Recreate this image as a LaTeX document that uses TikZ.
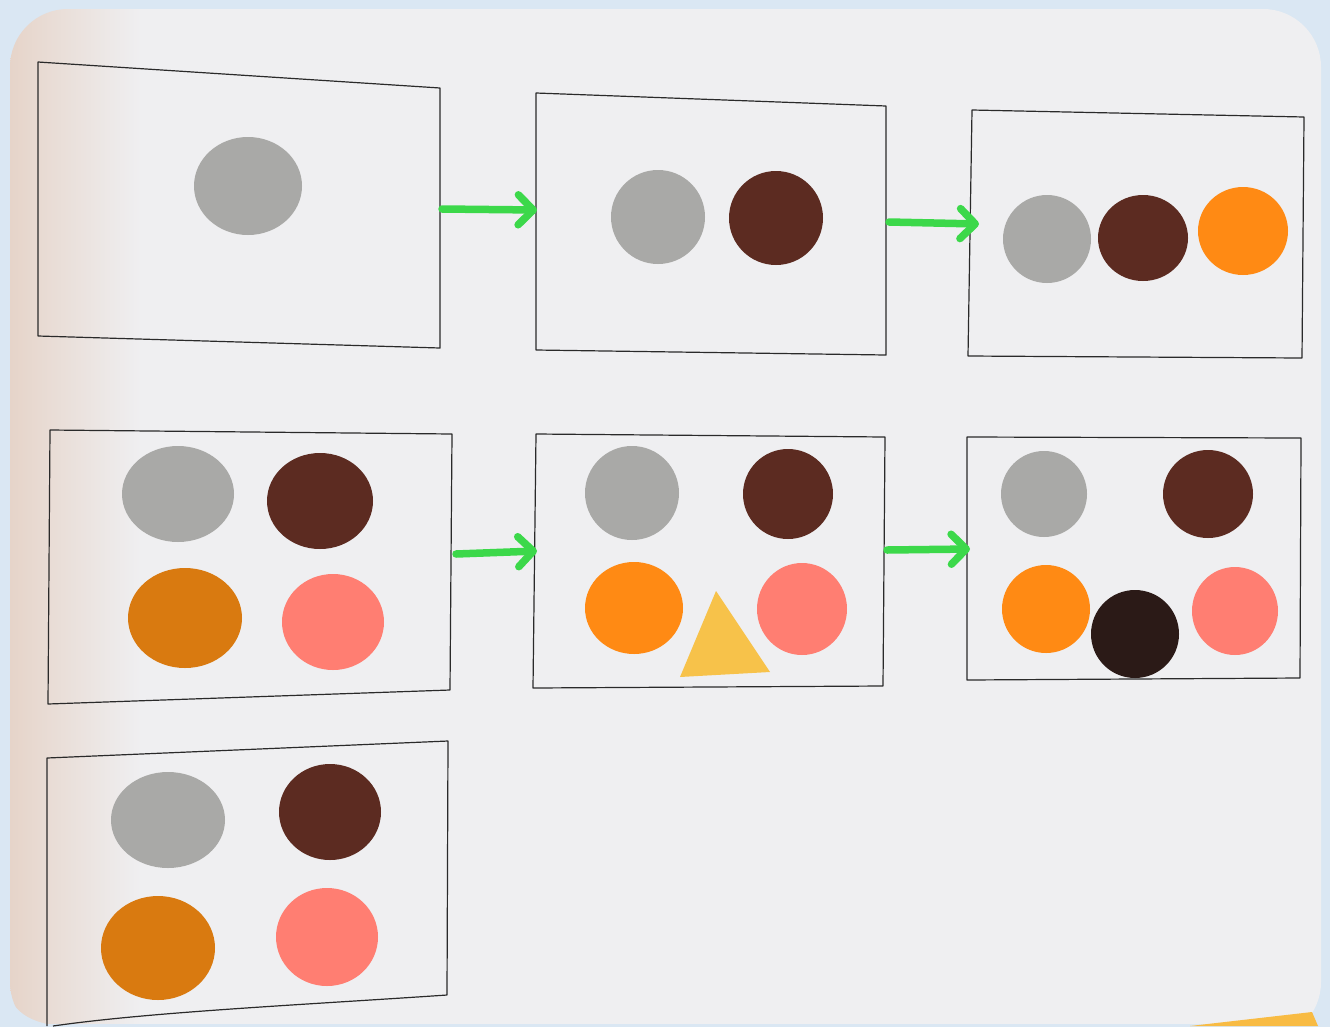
\documentclass[tikz,border=0pt]{standalone}
\usetikzlibrary{arrows.meta}
\definecolor{bgblue}{HTML}{DAE7F3}
\definecolor{paper}{HTML}{EFEFF1}
\definecolor{paperwarm}{HTML}{E6D4C9}
\definecolor{cgray}{HTML}{A9A9A7}
\definecolor{cbrown}{HTML}{5C2B21}
\definecolor{corange}{HTML}{FF8A14}
\definecolor{cdorange}{HTML}{D97A10}
\definecolor{cpink}{HTML}{FF7E72}
\definecolor{cblack}{HTML}{2B1A17}
\definecolor{cyellow}{HTML}{F7C24A}
\definecolor{cgreen}{HTML}{3CD84A}
\definecolor{frameline}{HTML}{2A2A2A}
\pgfdeclarehorizontalshading{papershade}{100bp}{color(0bp)=(paperwarm); color(25bp)=(paperwarm); color(30bp)=(paper); color(100bp)=(paper)}
\tikzset{
  framebox/.style={draw=frameline, line width=1.2pt, line join=round},
  greenarrow/.style={draw=cgreen, line width=7.5pt, line cap=round,
    -{Straight Barb[length=15pt,width=30pt,line cap=round,line join=round]}},
}
\begin{document}
\begin{tikzpicture}[x=1pt,y=-1pt]
\useasboundingbox (0,0) rectangle (1330,1026);
\fill[bgblue] (0,0) rectangle (1330,1026);
\shade[shading=papershade, rounded corners=58pt] (10,9) rectangle (1321,1040);
\fill[bgblue] (0,1024) rectangle (1330,1030);
% paper bottom corners
\fill[bgblue] (0,1026) -- (0,970) .. controls (8,1010) and (25,1022) .. (60,1026) -- cycle;
\fill[cyellow!90!orange] (1190,1026) -- (1312,1012) -- (1318,1026) -- cycle;
% frames
\draw[framebox] (38,62) -- (440,88) -- (440,348) -- (38,336) -- cycle;
\draw[framebox] (536,93) -- (886,106) -- (886,355) -- (536,350) -- cycle;
\draw[framebox] (972,110) -- (1304,117) -- (1302,358) -- (968,356) -- cycle;
\draw[framebox] (50,430) -- (452,434) -- (450,690) -- (48,704) -- cycle;
\draw[framebox] (536,434) -- (885,437) -- (883,686) -- (533,688) -- cycle;
\draw[framebox] (967,437) -- (1301,438) -- (1300,678) -- (967,680) -- cycle;
\draw[framebox] (47,1026) -- (47,758) -- (448,741) -- (447,995) .. controls (300,1005) and (150,1012) .. (53,1026);
% box 1
\fill[cgray] (248,186) ellipse [x radius=54, y radius=49];
% box 2
\fill[cgray] (658,217) ellipse [x radius=47, y radius=47];
\fill[cbrown] (776,218) ellipse [x radius=47, y radius=47];
% box 3
\fill[cgray] (1047,239) ellipse [x radius=44, y radius=44];
\fill[cbrown] (1143,238) ellipse [x radius=45, y radius=43];
\fill[corange] (1243,231) ellipse [x radius=45, y radius=44];
% box 4
\fill[cgray] (178,494) ellipse [x radius=56, y radius=48];
\fill[cbrown] (320,501) ellipse [x radius=53, y radius=48];
\fill[cdorange] (185,618) ellipse [x radius=57, y radius=50];
\fill[cpink] (333,622) ellipse [x radius=51, y radius=48];
% box 5
\fill[cgray] (632,493) ellipse [x radius=47, y radius=47];
\fill[cbrown] (788,494) ellipse [x radius=45, y radius=45];
\fill[corange] (634,608) ellipse [x radius=49, y radius=46];
\fill[cpink] (802,609) ellipse [x radius=45, y radius=46];
\fill[cyellow] (716,591) -- (770,672) -- (680,677) -- cycle;
% box 6
\fill[cgray] (1044,494) ellipse [x radius=43, y radius=43];
\fill[cbrown] (1208,494) ellipse [x radius=45, y radius=44];
\fill[corange] (1046,609) ellipse [x radius=44, y radius=44];
\fill[cpink] (1235,611) ellipse [x radius=43, y radius=44];
\fill[cblack] (1135,634) ellipse [x radius=44, y radius=44];
% box 7
\fill[cgray] (168,820) ellipse [x radius=57, y radius=48];
\fill[cbrown] (330,812) ellipse [x radius=51, y radius=48];
\fill[cdorange] (158,948) ellipse [x radius=57, y radius=52];
\fill[cpink] (327,937) ellipse [x radius=51, y radius=49];
% arrows
\coordinate (a1s) at (442,209); \coordinate (a1e) at (537,210);
\coordinate (a2s) at (889,222); \coordinate (a2e) at (979,224);
\coordinate (a3s) at (456,554); \coordinate (a3e) at (537,551);
\coordinate (a4s) at (887,550); \coordinate (a4e) at (970,549);
\draw[greenarrow] (a1s) -- (a1e);
\draw[greenarrow] (a2s) -- (a2e);
\draw[greenarrow] (a3s) -- (a3e);
\draw[greenarrow] (a4s) -- (a4e);
\end{tikzpicture}
\end{document}
